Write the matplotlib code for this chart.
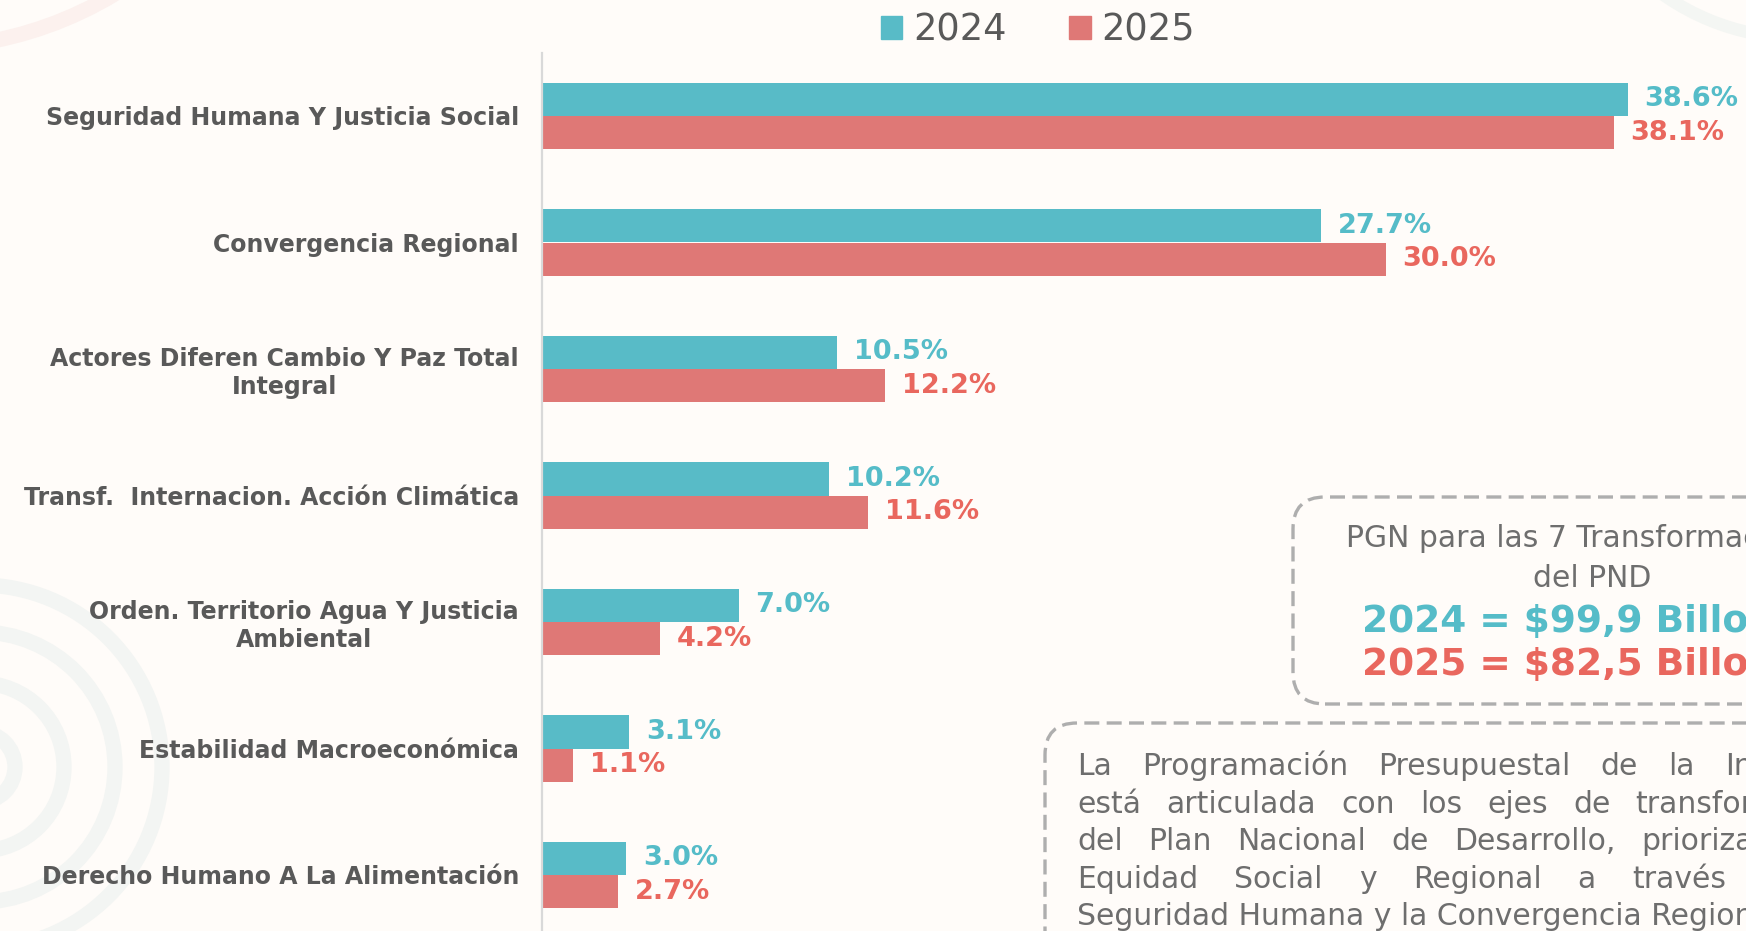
import numpy as np
import matplotlib.pyplot as plt
import matplotlib.transforms as mtransforms
from matplotlib.patches import FancyBboxPatch, Circle, Patch

# data
categories = [
    'Seguridad Humana Y Justicia Social',
    'Convergencia Regional',
    'Actores Diferen Cambio Y Paz Total\nIntegral',
    'Transf.  Internacion. Acción Climática',
    'Orden. Territorio Agua Y Justicia\nAmbiental',
    'Estabilidad Macroeconómica',
    'Derecho Humano A La Alimentación',
]
share_2024 = [38.6, 27.7, 10.5, 10.2, 7.0, 3.1, 3.0]
share_2025 = [38.1, 30.0, 12.2, 11.6, 4.2, 1.1, 2.7]
years = ['2024', '2025']

pgn_lines = ['PGN para las 7 Transformaciones', 'del PND']
pgn_totals = ['2024 = $99,9 Billones', '2025 = $82,5 Billones']
note_lines = [
    'La Programación Presupuestal de la Inversión',
    'está articulada con los ejes de transformación',
    'del Plan Nacional de Desarrollo, priorizando la',
    'Equidad Social y Regional a través de la',
    'Seguridad Humana y la Convergencia Regional',
]

BG = '#FFFCF9'
TEAL = '#58BBC7'
RED = '#DF7876'
TEAL_TXT = '#55BCC8'
RED_TXT = '#E9675E'
GRAY = '#595959'
W, H = 1746, 931

plt.rcParams['font.family'] = ['DejaVu Sans']
fig = plt.figure(figsize=(W / 100, H / 100), dpi=100, facecolor=BG)
pix = mtransforms.IdentityTransform()

# faint background rings
for r in [35, 84, 135, 182]:
    fig.add_artist(Circle((-20, H - 767), r, transform=pix, fill=False,
                          lw=11, color='#F3F5F3', zorder=0))
fig.add_artist(Circle((-80, H + 330), 378, transform=pix, fill=False,
                      lw=11, color='#FCF1EE', zorder=0))
fig.add_artist(Circle((1800, H + 200), 238, transform=pix, fill=False,
                      lw=9, color='#F4F6F3', zorder=0))

# bar chart
ax_left, ax_top = 542, 53
ax = fig.add_axes([ax_left / W, 0, (W - ax_left) / W, (H - ax_top) / H])
ax.set_facecolor('none')

px_per_pct = 28.13
group_px = 126.5
y = np.arange(len(categories))
h = 0.261
b1 = ax.barh(y - h / 2, share_2024, height=h, color=TEAL, label=years[0])
b2 = ax.barh(y + h / 2, share_2025, height=h, color=RED, label=years[1])
ax.bar_label(b1, labels=[f'{v:.1f}%' for v in share_2024], padding=12,
             color=TEAL_TXT, fontsize=19.5, fontweight='bold')
ax.bar_label(b2, labels=[f'{v:.1f}%' for v in share_2025], padding=12,
             color=RED_TXT, fontsize=19.5, fontweight='bold')

ax.set_xlim(0, (W - ax_left) / px_per_pct)
ax.set_ylim((H - 116) / group_px, -(116 - ax_top) / group_px)
ax.set_xticks([])
ax.set_yticks(y, categories)
ax.tick_params(axis='y', length=0, pad=16.5)
for t in ax.get_yticklabels():
    t.set_fontsize(17)
    t.set_fontweight('bold')
    t.set_color(GRAY)
    t.set_multialignment('center')
    t.set_linespacing(1.2)
for s in ['top', 'right', 'bottom']:
    ax.spines[s].set_visible(False)
ax.spines['left'].set_color('#D9D9D9')
ax.spines['left'].set_linewidth(1.6)

fig.legend(handles=[Patch(color=TEAL), Patch(color=RED)], labels=years,
           loc='center', bbox_to_anchor=(1038 / W, 1 - 30 / H), ncol=2,
           frameon=False, fontsize=26.5, labelcolor=GRAY,
           handlelength=0.58, handleheight=0.58, handletextpad=0.3,
           columnspacing=1.7)

# dashed callout boxes
box_style = dict(transform=pix, fill=False, ec='#AEAEAE', lw=2.4,
                 ls=(0, (4.5, 2.2)), zorder=1)
fig.add_artist(FancyBboxPatch((1293, H - 704), 620, 207,
                              boxstyle='round,pad=0,rounding_size=32', **box_style))
fig.add_artist(FancyBboxPatch((1045, H - 1000), 900, 277,
                              boxstyle='round,pad=0,rounding_size=32', **box_style))

cx = 1592
for line, base in zip(pgn_lines, [547, 587]):
    fig.text(cx, H - base, line, transform=pix, ha='center', va='baseline',
             fontsize=21.5, color='#6E6E6E')
for line, base, col in zip(pgn_totals, [632, 675], [TEAL_TXT, RED_TXT]):
    fig.text(cx, H - base, line, transform=pix, ha='center', va='baseline',
             fontsize=27, fontweight='bold', color=col)

# justified paragraph in the lower box
fig.canvas.draw()
renderer = fig.canvas.get_renderer()
left, right = 1077, 1862
bases = [775, 813, 850, 888, 925]
for i, (line, base) in enumerate(zip(note_lines, bases)):
    if i == len(note_lines) - 1:
        fig.text(left, H - base, line, transform=pix, ha='left', va='baseline',
                 fontsize=21.5, color='#6E6E6E')
        continue
    words = line.split()
    texts = [fig.text(0, H - base, w, transform=pix, ha='left', va='baseline',
                      fontsize=21.5, color='#6E6E6E') for w in words]
    widths = [t.get_window_extent(renderer).width for t in texts]
    gap = (right - left - sum(widths)) / (len(words) - 1)
    x = left
    for t, wd in zip(texts, widths):
        t.set_x(x)
        x += wd + gap

fig.savefig('out.png', dpi=100, facecolor=BG)
